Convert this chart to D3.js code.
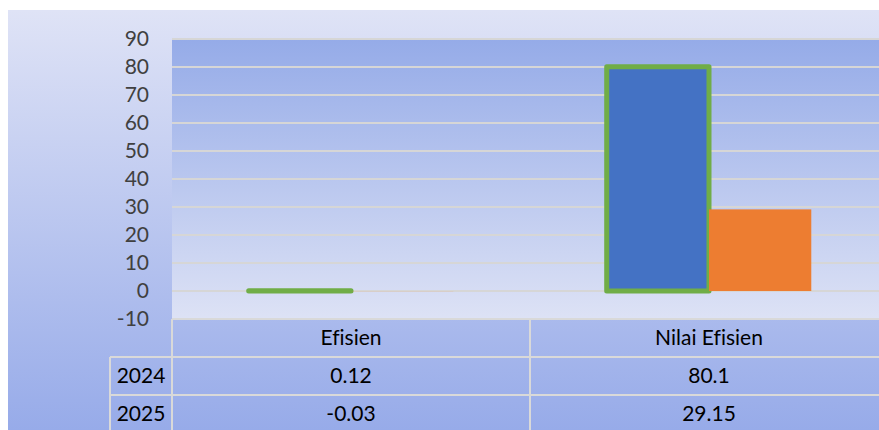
<!DOCTYPE html>
<html>
<head>
<meta charset="utf-8">
<script src="https://cdn.jsdelivr.net/npm/d3@7"></script>
<style>
  body { margin: 0; background: #fff; }
  svg { display: block; font-family: Lato, "Open Sans", sans-serif; font-variant-ligatures: none; }
</style>
</head>
<body>
<svg width="879" height="430"></svg>
<script>
// chart data
const categories = ['Efisien', 'Nilai Efisien'];
const years = ['2024', '2025'];
const values2024 = [0.12, 80.1];
const values2025 = [-0.03, 29.15];
const yTicks = [-10, 0, 10, 20, 30, 40, 50, 60, 70, 80, 90];
const seriesColors = ['#4472c4', '#ed7d31'];

const svg = d3.select('svg');
const defs = svg.append('defs');

// background gradients
const outerGrad = defs.append('linearGradient').attr('id', 'outerGrad')
  .attr('x1', 0).attr('y1', 0).attr('x2', 0).attr('y2', 1);
outerGrad.append('stop').attr('offset', '0%').attr('stop-color', '#dfe3f6');
outerGrad.append('stop').attr('offset', '100%').attr('stop-color', '#97abe9');

const plotGrad = defs.append('linearGradient').attr('id', 'plotGrad')
  .attr('x1', 0).attr('y1', 0).attr('x2', 0).attr('y2', 1);
plotGrad.append('stop').attr('offset', '0%').attr('stop-color', '#95abe8');
plotGrad.append('stop').attr('offset', '100%').attr('stop-color', '#dde2f5');

const pLeft = 172, pRight = 888, pTop = 39, pBottom = 319;

svg.append('rect')
  .attr('x', 8).attr('y', 10).attr('width', 871).attr('height', 420)
  .attr('fill', 'url(#outerGrad)');

svg.append('rect')
  .attr('x', pLeft).attr('y', pTop).attr('width', pRight - pLeft).attr('height', pBottom - pTop)
  .attr('fill', 'url(#plotGrad)');

// scales
const y = d3.scaleLinear().domain([-10, 90]).range([pBottom, pTop]);
const x0 = d3.scaleBand().domain(categories).range([pLeft, pRight]);
const cw = x0.bandwidth();
const bw = cw / 3.5; // gap width 150%
const x1 = d3.scaleBand().domain(years).range([bw * 0.75, cw - bw * 0.75]);

// gridlines
svg.append('g')
  .selectAll('line')
  .data(yTicks.filter(d => d > -10))
  .join('line')
  .attr('x1', pLeft).attr('x2', pRight)
  .attr('y1', d => y(d)).attr('y2', d => y(d))
  .attr('stroke', '#d6d6d6').attr('stroke-width', 2);

// y axis labels
const yAxis = d3.axisLeft(y).tickValues(yTicks).tickSize(0).tickPadding(0)
  .tickFormat(d => String(d));
const ya = svg.append('g').attr('transform', 'translate(149,0)').call(yAxis);
ya.select('.domain').remove();
ya.selectAll('text')
  .attr('font-size', 21)
  .attr('font-family', 'Lato, "Open Sans", sans-serif')
  .attr('fill', '#404040');

// bars
const rows = categories.map((c, i) => ({ cat: c, vals: [values2024[i], values2025[i]] }));
const groups = svg.append('g').selectAll('g')
  .data(rows)
  .join('g')
  .attr('transform', d => `translate(${x0(d.cat)},0)`);

groups.selectAll('rect')
  .data(d => d.vals.map((v, j) => ({ v, year: years[j], j })))
  .join('rect')
  .attr('x', d => x1(d.year))
  .attr('width', x1.bandwidth())
  .attr('y', d => y(Math.max(0, d.v)))
  .attr('height', d => Math.abs(y(d.v) - y(0)))
  .attr('fill', d => seriesColors[d.j])
  .attr('stroke', d => d.j === 0 ? '#70ad47' : 'none')
  .attr('stroke-width', 5)
  .attr('stroke-linejoin', 'round');

// data table
const lineColor = '#d9d9d9';
const tRow1 = 357, tRow2 = 395, tEnd = 433, tLeft = 110;
const table = svg.append('g').attr('stroke', lineColor).attr('stroke-width', 2);
table.append('line').attr('x1', pLeft).attr('x2', pRight).attr('y1', pBottom).attr('y2', pBottom);
[tRow1, tRow2].forEach(yy => {
  table.append('line').attr('x1', tLeft).attr('x2', pRight).attr('y1', yy).attr('y2', yy);
});
table.append('line').attr('x1', tLeft).attr('x2', tLeft).attr('y1', tRow1).attr('y2', tEnd);
[pLeft, x0(categories[1])].forEach(xx => {
  table.append('line').attr('x1', xx).attr('x2', xx).attr('y1', pBottom).attr('y2', tEnd);
});

const txt = svg.append('g')
  .attr('font-size', 21)
  .attr('fill', '#000')
  .attr('text-anchor', 'middle');

categories.forEach(c => {
  txt.append('text').attr('x', x0(c) + cw / 2).attr('y', (pBottom + tRow1) / 2 + 7).text(c);
});
const rowY = [tRow1, tRow2];
years.forEach((yr, j) => {
  const cy = rowY[j] + 19 + 7;
  txt.append('text').attr('x', 141).attr('y', cy).text(yr);
  const vals = j === 0 ? values2024 : values2025;
  categories.forEach((c, i) => {
    txt.append('text').attr('x', x0(c) + cw / 2).attr('y', cy).text(vals[i]);
  });
});
</script>
</body>
</html>
